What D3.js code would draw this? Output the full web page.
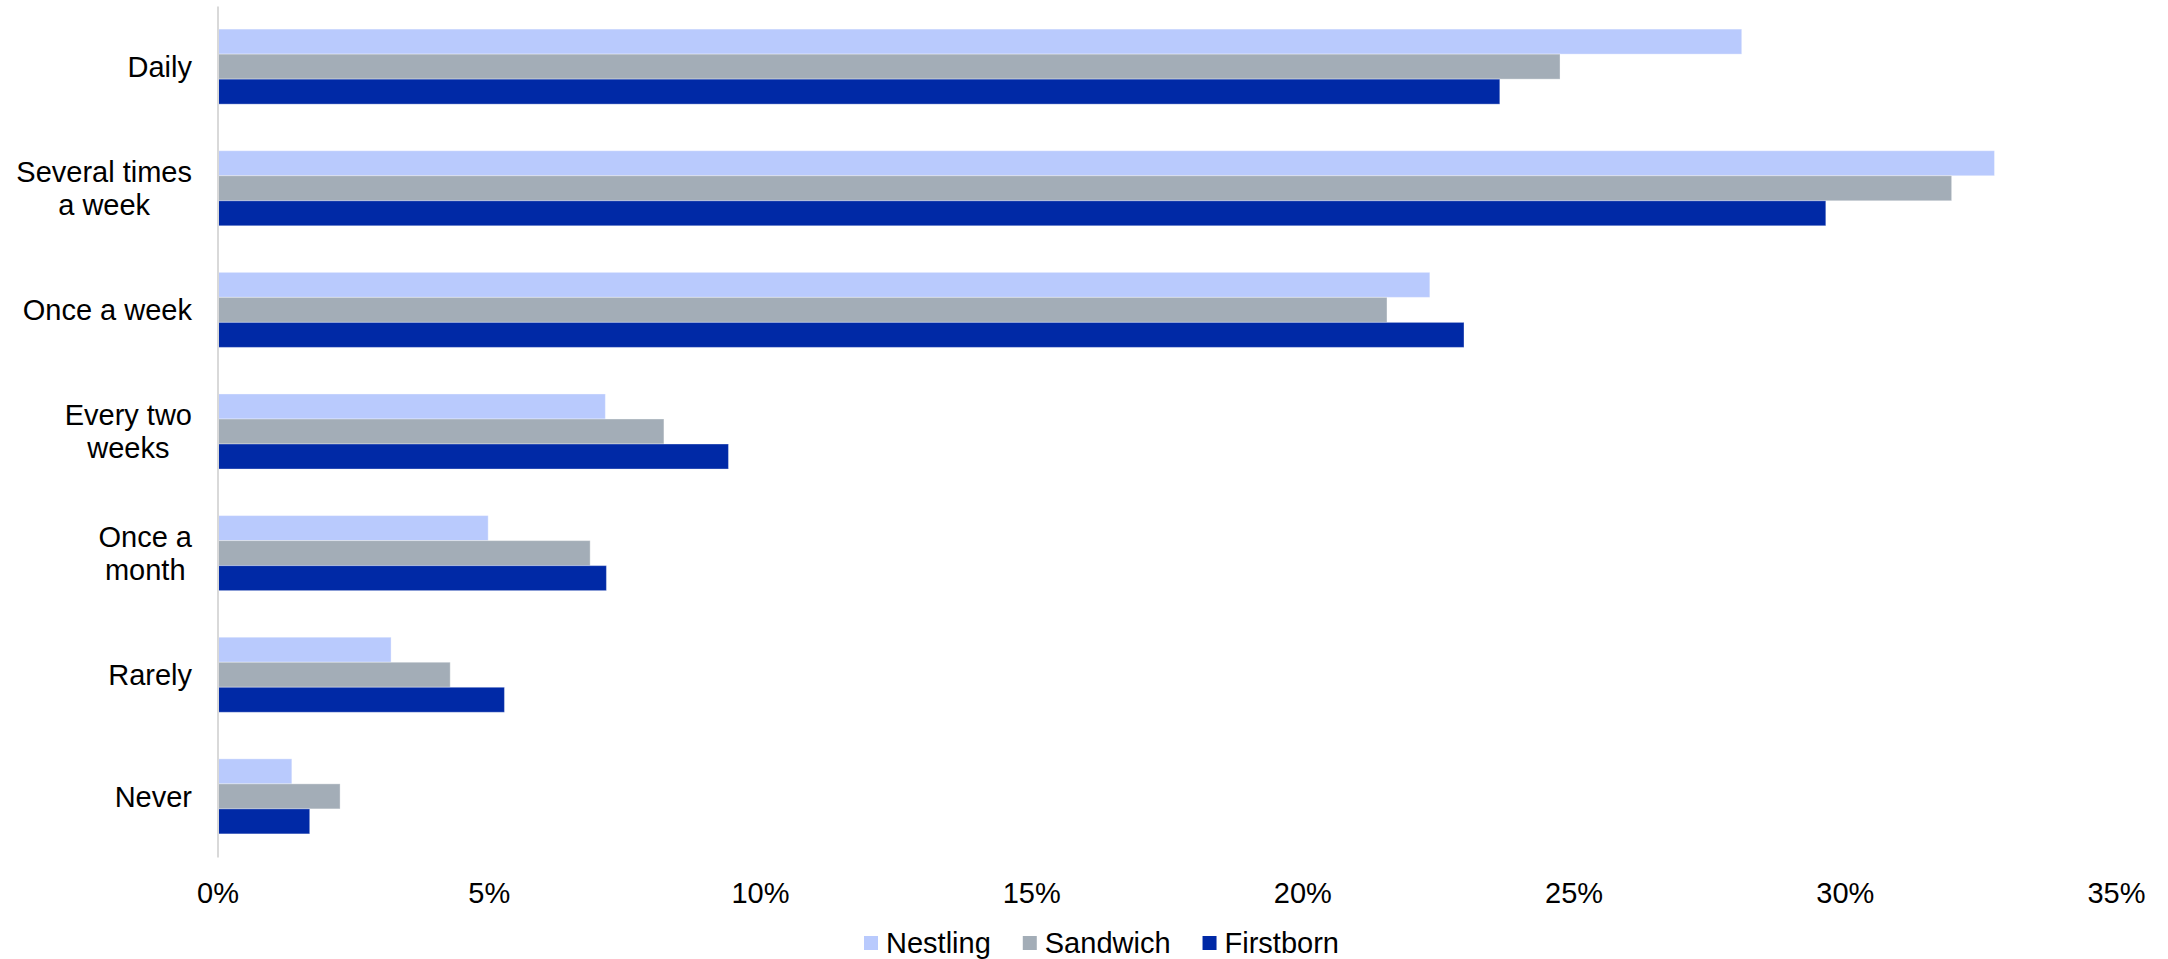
<!DOCTYPE html>
<html>
<head>
<meta charset="utf-8">
<script src="https://cdn.jsdelivr.net/npm/d3@7"></script>
<style>
  html, body { margin: 0; padding: 0; background: #ffffff; }
  svg { display: block; font-family: "Liberation Sans", Arial, sans-serif; }
</style>
</head>
<body>
<svg id="chart" width="2168" height="959"></svg>
<script>
// Frequency categories (top to bottom) and their wrapped labels
const categories = ["Daily", "Several times a week", "Once a week", "Every two weeks", "Once a month", "Rarely", "Never"];
const categoryLabels = [["Daily"], ["Several times", "a week"], ["Once a week"], ["Every two", "weeks"], ["Once a", "month"], ["Rarely"], ["Never"]];

// Series, in percent
const seriesNames = ["Nestling", "Sandwich", "Firstborn"];
const nestling  = [28.1, 32.76, 22.35, 7.15, 4.99, 3.20, 1.37];
const sandwich  = [24.75, 31.97, 21.56, 8.23, 6.87, 4.29, 2.26];
const firstborn = [23.64, 29.65, 22.98, 9.42, 7.17, 5.29, 1.70];

// Axis ticks
const tickValues = [0, 5, 10, 15, 20, 25, 30, 35];
const tickLabels = ["0%", "5%", "10%", "15%", "20%", "25%", "30%", "35%"];

const seriesValues = [nestling, sandwich, firstborn];
const colors = ["#b9cafd", "#a3adb7", "#0029a6"];

const svg = d3.select("#chart");
const fontSize = 29;

const x = d3.scaleLinear().domain([0, 35]).range([217.5, 2116]);
const y = d3.scaleBand().domain(categories).range([6, 857])
  .paddingInner(0.383).paddingOuter(0.19);
const ySub = d3.scaleBand().domain(seriesNames).range([0, y.bandwidth()]).padding(0);

// Bars
const rows = categories.map((c, i) => ({
  category: c,
  values: seriesNames.map((s, j) => ({ series: s, value: seriesValues[j][i], color: colors[j] }))
}));

const groups = svg.append("g").selectAll("g")
  .data(rows).join("g")
  .attr("transform", d => `translate(0,${y(d.category)})`);

groups.selectAll("rect")
  .data(d => d.values).join("rect")
  .attr("x", x(0))
  .attr("y", d => ySub(d.series))
  .attr("width", d => x(d.value) - x(0))
  .attr("height", ySub.bandwidth())
  .attr("fill", d => d.color)
  .attr("stroke", "rgba(255,255,255,0.35)")
  .attr("stroke-width", 1);

// Category axis: vertical baseline plus wrapped labels
const yAxis = svg.append("g")
  .attr("transform", `translate(${x(0)},0)`)
  .call(d3.axisLeft(y).tickSize(0).tickSizeOuter(0).tickFormat(""));
yAxis.select(".domain").attr("stroke", "#d9d9d9").attr("stroke-width", 2);

const labelRight = 192;
const lineHeight = 33;
categories.forEach((c, i) => {
  const lines = categoryLabels[i];
  const cy = y(c) + y.bandwidth() / 2;
  const t = svg.append("text")
    .attr("font-size", fontSize)
    .attr("fill", "#000");
  const spans = lines.map((ln, k) => t.append("tspan").text(ln));
  const widths = spans.map(s => s.node().getComputedTextLength());
  const maxW = d3.max(widths);
  const cx = labelRight - maxW / 2;
  const first = cy + 10.4 - (lines.length - 1) * lineHeight / 2;
  spans.forEach((s, k) => {
    s.attr("x", cx).attr("y", first + k * lineHeight).attr("text-anchor", "middle");
  });
});

// Value axis labels
const xAxis = svg.append("g")
  .attr("transform", "translate(0,893)")
  .call(d3.axisBottom(x).tickValues(tickValues).tickSize(0)
    .tickFormat((d, i) => tickLabels[i]));
xAxis.select(".domain").remove();
xAxis.selectAll("text")
  .attr("font-size", fontSize)
  .attr("font-family", "'Liberation Sans', Arial, sans-serif")
  .attr("fill", "#000")
  .attr("dy", "0.35em")
  .attr("y", 0);

// Legend
const legend = svg.append("g").attr("transform", "translate(864,943)");
let lx = 0;
seriesNames.forEach((s, j) => {
  const g = legend.append("g").attr("transform", `translate(${lx},0)`);
  g.append("rect").attr("x", 0).attr("y", -7).attr("width", 14).attr("height", 14).attr("fill", colors[j]);
  const t = g.append("text").attr("x", 22).attr("y", 10.4)
    .attr("font-size", fontSize).attr("fill", "#000").text(s);
  lx += 22 + t.node().getComputedTextLength() + 32;
});
</script>
</body>
</html>
